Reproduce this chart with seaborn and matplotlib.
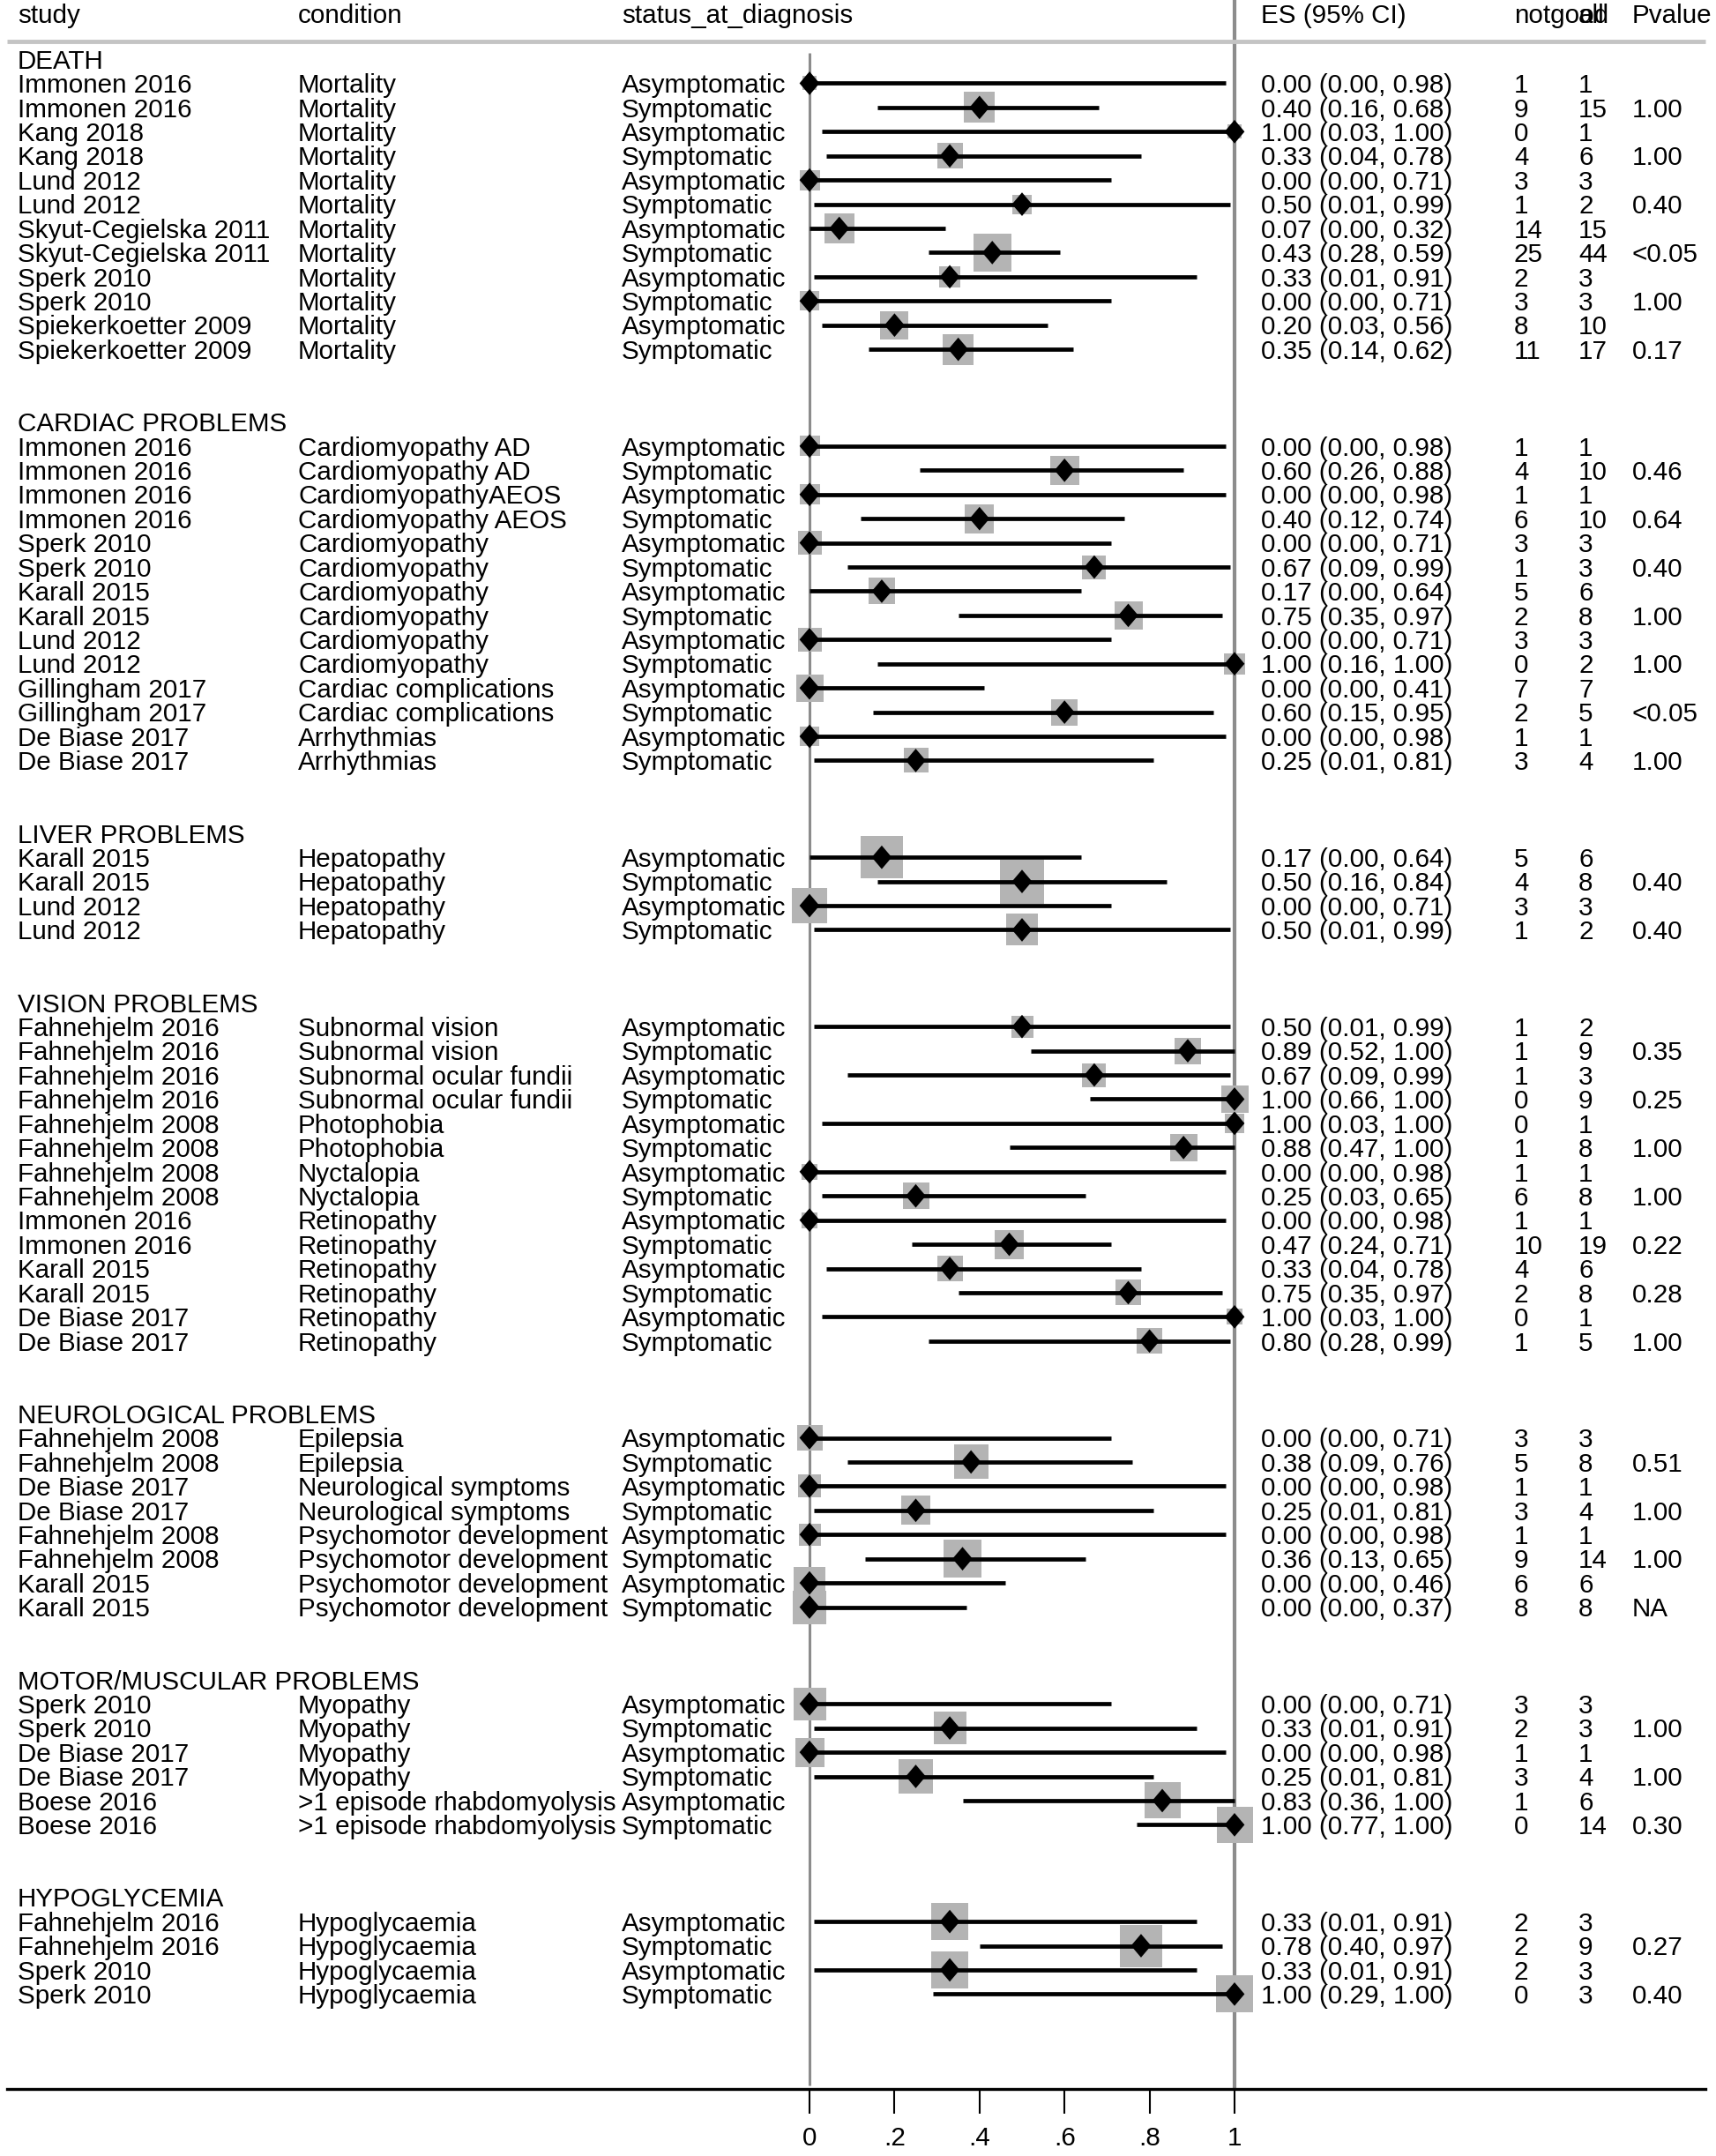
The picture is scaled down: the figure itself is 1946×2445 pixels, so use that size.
import matplotlib
matplotlib.use("Agg")
import matplotlib.pyplot as plt
import numpy as np
import pandas as pd
import seaborn as sns

# groups of the forest plot, in order from top to bottom
group_names = ["DEATH", "CARDIAC PROBLEMS", "LIVER PROBLEMS", "VISION PROBLEMS",
               "NEUROLOGICAL PROBLEMS", "MOTOR/MUSCULAR PROBLEMS", "HYPOGLYCEMIA"]
group_counts = [12, 14, 4, 14, 8, 6, 4]

study = [
    # death
    "Immonen 2016", "Immonen 2016", "Kang 2018", "Kang 2018", "Lund 2012", "Lund 2012",
    "Skyut-Cegielska 2011", "Skyut-Cegielska 2011", "Sperk 2010", "Sperk 2010",
    "Spiekerkoetter 2009", "Spiekerkoetter 2009",
    # cardiac
    "Immonen 2016", "Immonen 2016", "Immonen 2016", "Immonen 2016", "Sperk 2010", "Sperk 2010",
    "Karall 2015", "Karall 2015", "Lund 2012", "Lund 2012", "Gillingham 2017", "Gillingham 2017",
    "De Biase 2017", "De Biase 2017",
    # liver
    "Karall 2015", "Karall 2015", "Lund 2012", "Lund 2012",
    # vision
    "Fahnehjelm 2016", "Fahnehjelm 2016", "Fahnehjelm 2016", "Fahnehjelm 2016",
    "Fahnehjelm 2008", "Fahnehjelm 2008", "Fahnehjelm 2008", "Fahnehjelm 2008",
    "Immonen 2016", "Immonen 2016", "Karall 2015", "Karall 2015", "De Biase 2017", "De Biase 2017",
    # neuro
    "Fahnehjelm 2008", "Fahnehjelm 2008", "De Biase 2017", "De Biase 2017",
    "Fahnehjelm 2008", "Fahnehjelm 2008", "Karall 2015", "Karall 2015",
    # motor
    "Sperk 2010", "Sperk 2010", "De Biase 2017", "De Biase 2017", "Boese 2016", "Boese 2016",
    # hypoglycemia
    "Fahnehjelm 2016", "Fahnehjelm 2016", "Sperk 2010", "Sperk 2010",
]

condition = (
    ["Mortality"] * 12
    + ["Cardiomyopathy AD", "Cardiomyopathy AD", "CardiomyopathyAEOS", "Cardiomyopathy AEOS"]
    + ["Cardiomyopathy"] * 6
    + ["Cardiac complications", "Cardiac complications", "Arrhythmias", "Arrhythmias"]
    + ["Hepatopathy"] * 4
    + ["Subnormal vision", "Subnormal vision", "Subnormal ocular fundii", "Subnormal ocular fundii",
       "Photophobia", "Photophobia", "Nyctalopia", "Nyctalopia"]
    + ["Retinopathy"] * 6
    + ["Epilepsia", "Epilepsia", "Neurological symptoms", "Neurological symptoms"]
    + ["Psychomotor development"] * 4
    + ["Myopathy"] * 4
    + [">1 episode rhabdomyolysis"] * 2
    + ["Hypoglycaemia"] * 4
)

status = ["Asymptomatic", "Symptomatic"] * 31

es = [0.00, 0.40, 1.00, 0.33, 0.00, 0.50, 0.07, 0.43, 0.33, 0.00, 0.20, 0.35,
      0.00, 0.60, 0.00, 0.40, 0.00, 0.67, 0.17, 0.75, 0.00, 1.00, 0.00, 0.60, 0.00, 0.25,
      0.17, 0.50, 0.00, 0.50,
      0.50, 0.89, 0.67, 1.00, 1.00, 0.88, 0.00, 0.25, 0.00, 0.47, 0.33, 0.75, 1.00, 0.80,
      0.00, 0.38, 0.00, 0.25, 0.00, 0.36, 0.00, 0.00,
      0.00, 0.33, 0.00, 0.25, 0.83, 1.00,
      0.33, 0.78, 0.33, 1.00]
ci_low = [0.00, 0.16, 0.03, 0.04, 0.00, 0.01, 0.00, 0.28, 0.01, 0.00, 0.03, 0.14,
          0.00, 0.26, 0.00, 0.12, 0.00, 0.09, 0.00, 0.35, 0.00, 0.16, 0.00, 0.15, 0.00, 0.01,
          0.00, 0.16, 0.00, 0.01,
          0.01, 0.52, 0.09, 0.66, 0.03, 0.47, 0.00, 0.03, 0.00, 0.24, 0.04, 0.35, 0.03, 0.28,
          0.00, 0.09, 0.00, 0.01, 0.00, 0.13, 0.00, 0.00,
          0.00, 0.01, 0.00, 0.01, 0.36, 0.77,
          0.01, 0.40, 0.01, 0.29]
ci_high = [0.98, 0.68, 1.00, 0.78, 0.71, 0.99, 0.32, 0.59, 0.91, 0.71, 0.56, 0.62,
           0.98, 0.88, 0.98, 0.74, 0.71, 0.99, 0.64, 0.97, 0.71, 1.00, 0.41, 0.95, 0.98, 0.81,
           0.64, 0.84, 0.71, 0.99,
           0.99, 1.00, 0.99, 1.00, 1.00, 1.00, 0.98, 0.65, 0.98, 0.71, 0.78, 0.97, 1.00, 0.99,
           0.71, 0.76, 0.98, 0.81, 0.98, 0.65, 0.46, 0.37,
           0.71, 0.91, 0.98, 0.81, 1.00, 1.00,
           0.91, 0.97, 0.91, 1.00]
notgood = [1, 9, 0, 4, 3, 1, 14, 25, 2, 3, 8, 11,
           1, 4, 1, 6, 3, 1, 5, 2, 3, 0, 7, 2, 1, 3,
           5, 4, 3, 1,
           1, 1, 1, 0, 0, 1, 1, 6, 1, 10, 4, 2, 0, 1,
           3, 5, 1, 3, 1, 9, 6, 8,
           3, 2, 1, 3, 1, 0,
           2, 2, 2, 0]
n_all = [1, 15, 1, 6, 3, 2, 15, 44, 3, 3, 10, 17,
         1, 10, 1, 10, 3, 3, 6, 8, 3, 2, 7, 5, 1, 4,
         6, 8, 3, 2,
         2, 9, 3, 9, 1, 8, 1, 8, 1, 19, 6, 8, 1, 5,
         3, 8, 1, 4, 1, 14, 6, 8,
         3, 3, 1, 4, 6, 14,
         3, 9, 3, 3]
pvalue = ["", "1.00", "", "1.00", "", "0.40", "", "<0.05", "", "1.00", "", "0.17",
          "", "0.46", "", "0.64", "", "0.40", "", "1.00", "", "1.00", "", "<0.05", "", "1.00",
          "", "0.40", "", "0.40",
          "", "0.35", "", "0.25", "", "1.00", "", "1.00", "", "0.22", "", "0.28", "", "1.00",
          "", "0.51", "", "1.00", "", "1.00", "", "NA",
          "", "1.00", "", "1.00", "", "0.30",
          "", "0.27", "", "0.40"]
# side of the grey weight squares (pixels)
box_px = [16, 35, 16, 29, 23, 22, 34, 43, 24, 22, 32, 35,
          23, 33, 23, 33, 27, 27, 30, 32, 27, 24, 31, 30, 22, 28,
          48, 50, 40, 36,
          25, 30, 27, 31, 22, 31, 18, 30, 18, 33, 29, 29, 18, 29,
          29, 39, 26, 33, 25, 43, 36, 38,
          37, 37, 33, 39, 41, 41,
          42, 48, 42, 42]

# row layout: heading, data rows, two empty rows
rows, heading_rows = [], []
r = 0
for cnt in group_counts:
    heading_rows.append(r)
    rows.extend(range(r + 1, r + 1 + cnt))
    r += cnt + 3

df = pd.DataFrame({"row": rows, "study": study, "condition": condition, "status": status,
                   "es": es, "lo": ci_low, "hi": ci_high, "notgood": notgood,
                   "all": n_all, "p": pvalue, "box": box_px})

sns.set_theme(style="white")
plt.rcParams["font.family"] = ["Liberation Sans", "DejaVu Sans"]
FS = 21.3

W, H = 1946, 2445
fig = plt.figure(figsize=(W / 100, H / 100), dpi=100)
ax = fig.add_axes([0, 0, 1, 1])

# pixel helpers (layout only)
X0, X1 = 918, 1400
Y0, DY = 67, 27.43
def px_x(p):
    return (p - X0) / (X1 - X0)
def px_y(p):
    return (p - Y0) / DY

ax.set_xlim(px_x(0), px_x(W))
ax.set_ylim(px_y(H), px_y(0))

# reference lines
ax.vlines(0, px_y(60), px_y(2365), color="#8c8c8c", lw=2.2, zorder=1)
ax.vlines(1, px_y(0), px_y(2369), color="#8c8c8c", lw=3.0, zorder=1)
ax.hlines(px_y(47), px_x(8), px_x(1934), color="#c4c4c4", lw=3.5, zorder=1)

# weight squares, CI lines, point estimates
sns.scatterplot(data=df, x="es", y="row", marker="s", s=(df["box"] * 0.72) ** 2,
                color="#b4b4b4", edgecolor="none", linewidth=0, legend=False, ax=ax, zorder=2)
ax.hlines(df["row"], df["lo"], df["hi"], color="black", lw=3.4, zorder=3)
diamond = [(0, 1), (0.85, 0), (0, -1), (-0.85, 0), (0, 1)]
sns.scatterplot(data=df, x="es", y="row", marker=diamond, s=370, color="black",
                edgecolor="none", linewidth=0, legend=False, ax=ax, zorder=4)

# text columns
col_study, col_cond, col_status = px_x(20), px_x(338), px_x(705)
col_es, col_ng, col_all, col_p = px_x(1430), px_x(1717), px_x(1790), px_x(1851)
tkw = dict(fontsize=FS, va="center", ha="left", color="black")
dt = 0.1  # text sits a touch lower than the marks

hy = px_y(15) + dt
for x, lab in [(col_study, "study"), (col_cond, "condition"), (col_status, "status_at_diagnosis"),
               (col_es, "ES (95% CI)"), (col_ng, "notgood"), (col_all, "all"), (col_p, "Pvalue")]:
    ax.text(x, hy, lab, **tkw)

for hr, name in zip(heading_rows, group_names):
    ax.text(col_study, hr + dt, name, **tkw)

for _, d in df.iterrows():
    y = d["row"] + dt
    ax.text(col_study, y, d["study"], **tkw)
    ax.text(col_cond, y, d["condition"], **tkw)
    ax.text(col_status, y, d["status"], **tkw)
    ax.text(col_es, y, f"{d['es']:.2f} ({d['lo']:.2f}, {d['hi']:.2f})", **tkw)
    ax.text(col_ng, y, str(d["notgood"]), **tkw)
    ax.text(col_all, y, str(d["all"]), **tkw)
    if d["p"]:
        ax.text(col_p, y, d["p"], **tkw)

# bottom axis
for s in ["top", "left", "right"]:
    ax.spines[s].set_visible(False)
ax.spines["bottom"].set_position(("data", px_y(2369)))
ax.spines["bottom"].set_bounds(px_x(8), px_x(1934))
ax.spines["bottom"].set_color("black")
ax.spines["bottom"].set_linewidth(2.4)
ax.set_xticks([0, 0.2, 0.4, 0.6, 0.8, 1.0])
ax.set_xticklabels(["0", ".2", ".4", ".6", ".8", "1"])
ax.tick_params(axis="x", bottom=True, direction="out", length=20, width=1.5,
               pad=10, labelsize=FS, colors="black")
ax.set_yticks([])
ax.set_xlabel("")
ax.set_ylabel("")
ax.patch.set_alpha(0)

fig.savefig("out.png", dpi=100, facecolor="white")
